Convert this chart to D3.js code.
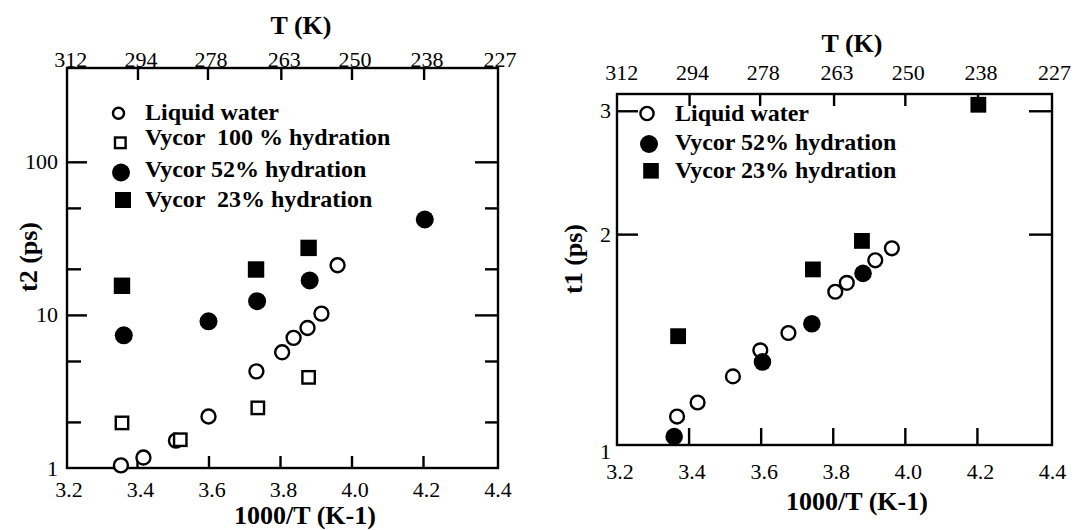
<!DOCTYPE html>
<html>
<head>
<meta charset="utf-8">
<script src="https://cdn.jsdelivr.net/npm/d3@7"></script>
<style>
  body { margin: 0; background: #fff; }
  svg { display: block; }
  .leg { white-space: pre; }
</style>
</head>
<body>
<svg id="chart" width="1085" height="530" font-family="'Liberation Serif', 'Times New Roman', serif"></svg>
<script>
// Inverse temperature ticks, 1000/T (K^-1)
const invTempTicks = [3.2, 3.4, 3.6, 3.8, 4.0, 4.2, 4.4];
// Temperatures (K) labelled along the top axis
const tempTicks = [312, 294, 278, 263, 250, 238, 227];

// t2 (ps) vs 1000/T
const t2Liquid = [[3.355, 1.04], [3.418, 1.17], [3.509, 1.51], [3.600, 2.17], [3.734, 4.28],
                  [3.806, 5.7], [3.838, 7.08], [3.877, 8.22], [3.916, 10.2], [3.961, 21.1]];
const t2Vycor100 = [[3.358, 1.97], [3.521, 1.53], [3.738, 2.47], [3.880, 3.91]];
const t2Vycor52 = [[3.363, 7.36], [3.600, 9.08], [3.736, 12.3], [3.883, 16.8], [4.205, 42.0]];
const t2Vycor23 = [[3.358, 15.5], [3.733, 19.8], [3.880, 27.4]];

// t1 (ps) vs 1000/T
const t1Liquid = [[3.368, 1.098], [3.425, 1.15], [3.523, 1.253], [3.599, 1.365], [3.677, 1.445],
                  [3.807, 1.655], [3.839, 1.704], [3.918, 1.835], [3.964, 1.909]];
const t1Vycor52 = [[3.360, 1.028], [3.605, 1.314], [3.742, 1.49], [3.884, 1.758]];
const t1Vycor23 = [[3.371, 1.43], [3.745, 1.781], [3.881, 1.956], [4.204, 3.06]];

// Y tick values
const t2MajorTicks = [10, 100];
const t2MinorTicks = [2, 5, 20, 50];
const t2TickLabels = [1, 10, 100];
const t1MajorTicks = [2, 3];
const t1TickLabels = [1, 2, 3];

// Legend labels
const t2Legend = ["Liquid water", "Vycor  100 % hydration", "Vycor 52% hydration", "Vycor  23% hydration"];
const t1Legend = ["Liquid water", "Vycor 52% hydration", "Vycor 23% hydration"];

const FONT = "'Liberation Serif', 'Times New Roman', serif";
const svg = d3.select("#chart");
const STROKE = 2.4;
const TICK_FONT = 22;

function styleAxis(sel) {
  sel.attr("font-family", FONT).attr("font-size", TICK_FONT);
  sel.select(".domain").remove();
  sel.selectAll("line").attr("stroke", "#000").attr("stroke-width", STROKE);
  sel.selectAll("text").attr("fill", "#000").attr("font-family", FONT);
}

function drawMarker(g, shape, filled, cx, cy, size) {
  let m;
  if (shape === "circle") {
    m = g.append("circle").attr("cx", cx).attr("cy", cy).attr("r", size);
  } else {
    m = g.append("rect").attr("x", cx - size).attr("y", cy - size)
      .attr("width", size * 2).attr("height", size * 2);
  }
  if (filled) m.attr("fill", "#000");
  else m.attr("fill", "#fff").attr("stroke", "#000").attr("stroke-width", STROKE);
}

function title(g, x, y, txt) {
  return g.append("text").attr("x", x).attr("y", y).attr("text-anchor", "middle")
    .attr("font-family", FONT).attr("font-weight", "bold").attr("font-size", 26).text(txt);
}

function drawPanel(p) {
  const g = svg.append("g");
  const f = p.frame;
  const x = d3.scaleLinear().domain([3.2, 4.4]).range(p.xRange);
  const y = d3.scaleLog().domain(p.yDomain).range([f.y1, f.y0]);
  const innerX = invTempTicks.slice(1, -1);
  const innerT = tempTicks.slice(1, -1).map(t => 1000 / t);

  // bottom: inward ticks, then labels
  g.append("g").attr("transform", `translate(0,${f.y1})`)
    .call(d3.axisBottom(x).tickValues(innerX).tickSizeInner(-p.bottomTick).tickSizeOuter(0).tickFormat(""))
    .call(styleAxis);
  g.append("g").attr("transform", `translate(3,${f.y1})`)
    .call(d3.axisBottom(x).tickValues(invTempTicks).tickSize(0).tickPadding(p.bottomPad).tickFormat(d3.format(".1f")))
    .call(styleAxis);

  // top: temperature ticks and labels
  g.append("g").attr("transform", `translate(0,${f.y0})`)
    .call(d3.axisTop(x).tickValues(innerT).tickSizeInner(-12).tickSizeOuter(0).tickFormat(""))
    .call(styleAxis);
  g.append("g").attr("transform", `translate(3,${f.y0})`)
    .call(d3.axisTop(x).tickValues(tempTicks.map(t => 1000 / t)).tickSize(0).tickPadding(p.topPad)
      .tickFormat((d, i) => tempTicks[i]))
    .call(styleAxis);

  // left and right y ticks
  g.append("g").attr("transform", `translate(${f.x0},0)`)
    .call(d3.axisLeft(y).tickValues(p.yMajor).tickSizeInner(-p.leftMajor).tickSizeOuter(0).tickFormat(""))
    .call(styleAxis);
  g.append("g").attr("transform", `translate(${f.x1},0)`)
    .call(d3.axisRight(y).tickValues(p.yMajor).tickSizeInner(-23).tickSizeOuter(0).tickFormat(""))
    .call(styleAxis);
  if (p.yMinor.length) {
    g.append("g").attr("transform", `translate(${f.x0},0)`)
      .call(d3.axisLeft(y).tickValues(p.yMinor).tickSizeInner(-14).tickSizeOuter(0).tickFormat(""))
      .call(styleAxis);
    g.append("g").attr("transform", `translate(${f.x1},0)`)
      .call(d3.axisRight(y).tickValues(p.yMinor).tickSizeInner(-13).tickSizeOuter(0).tickFormat(""))
      .call(styleAxis);
  }
  // y labels
  const yl = g.append("g").attr("transform", `translate(${f.x0},0)`)
    .call(d3.axisLeft(y).tickValues(p.yLabels).tickSize(0).tickPadding(p.leftPad).tickFormat(d3.format("d")))
    .call(styleAxis);
  if (p.bottomLabelDy) {
    yl.selectAll(".tick").filter(d => d === p.yDomain[0]).select("text").attr("dy", p.bottomLabelDy);
  }

  // frame
  g.append("rect").attr("x", f.x0).attr("y", f.y0)
    .attr("width", f.x1 - f.x0).attr("height", f.y1 - f.y0)
    .attr("fill", "none").attr("stroke", "#000").attr("stroke-width", STROKE);

  // titles
  title(g, p.topTitle[0], p.topTitle[1], "T (K)");
  title(g, p.bottomTitle[0], p.bottomTitle[1], "1000/T (K-1)");
  title(g, 0, 0, p.yTitleText)
    .attr("transform", `translate(${p.yTitle[0]},${p.yTitle[1]}) rotate(-90)`)
    .attr("dominant-baseline", "central");

  // data
  const marks = g.append("g");
  p.series.forEach(s => {
    s.data.forEach(([xv, yv]) => drawMarker(marks, s.shape, s.filled, x(xv), y(yv), s.size));
  });

  // legend
  const lg = g.append("g");
  p.legend.forEach((lab, i) => {
    const s = p.series[i];
    const e = p.legendPos[i];
    drawMarker(lg, s.shape, s.filled, e.mx, e.my, e.ms);
    lg.append("text").attr("class", "leg").attr("x", p.legendTextX).attr("y", e.base)
      .attr("font-family", FONT).attr("font-weight", "bold").attr("font-size", 24).text(lab);
  });
}

// left panel: t2
drawPanel({
  frame: { x0: 67, x1: 498, y0: 68, y1: 468 },
  xRange: [65.5, 494.5],
  yDomain: [1, 410],
  yMajor: t2MajorTicks, yMinor: t2MinorTicks, yLabels: t2TickLabels,
  leftMajor: 20, leftPad: 9, bottomTick: 12, bottomPad: 13, topPad: 1,
  topTitle: [301, 34], bottomTitle: [305, 524], yTitle: [28, 257], yTitleText: "t2 (ps)",
  series: [
    { data: t2Liquid, shape: "circle", filled: false, size: 7 },
    { data: t2Vycor100, shape: "square", filled: false, size: 6.2 },
    { data: t2Vycor52, shape: "circle", filled: true, size: 9 },
    { data: t2Vycor23, shape: "square", filled: true, size: 8.2 }
  ],
  legend: t2Legend,
  legendTextX: 145,
  legendPos: [
    { mx: 118.5, my: 113.3, ms: 5.5, base: 120 },
    { mx: 120.3, my: 142.8, ms: 5.3, base: 145 },
    { mx: 121, my: 172.5, ms: 9, base: 176.7 },
    { mx: 123, my: 200, ms: 8, base: 206.7 }
  ]
});

// right panel: t1
drawPanel({
  frame: { x0: 617, x1: 1052, y0: 94, y1: 445 },
  xRange: [616.5, 1049],
  yDomain: [1, 3.17],
  yMajor: t1MajorTicks, yMinor: [], yLabels: t1TickLabels,
  leftMajor: 21, leftPad: 6, bottomTick: 17, bottomPad: 18, topPad: 14,
  bottomLabelDy: "0.62em",
  topTitle: [852, 52], bottomTitle: [857, 510], yTitle: [573, 259], yTitleText: "t1 (ps)",
  series: [
    { data: t1Liquid, shape: "circle", filled: false, size: 6.9 },
    { data: t1Vycor52, shape: "circle", filled: true, size: 8.8 },
    { data: t1Vycor23, shape: "square", filled: true, size: 7.9 }
  ],
  legend: t1Legend,
  legendTextX: 675,
  legendPos: [
    { mx: 647, my: 113.5, ms: 6.6, base: 120.7 },
    { mx: 649, my: 144, ms: 9, base: 150 },
    { mx: 651, my: 170.8, ms: 7.8, base: 178.3 }
  ]
});
</script>
</body>
</html>
